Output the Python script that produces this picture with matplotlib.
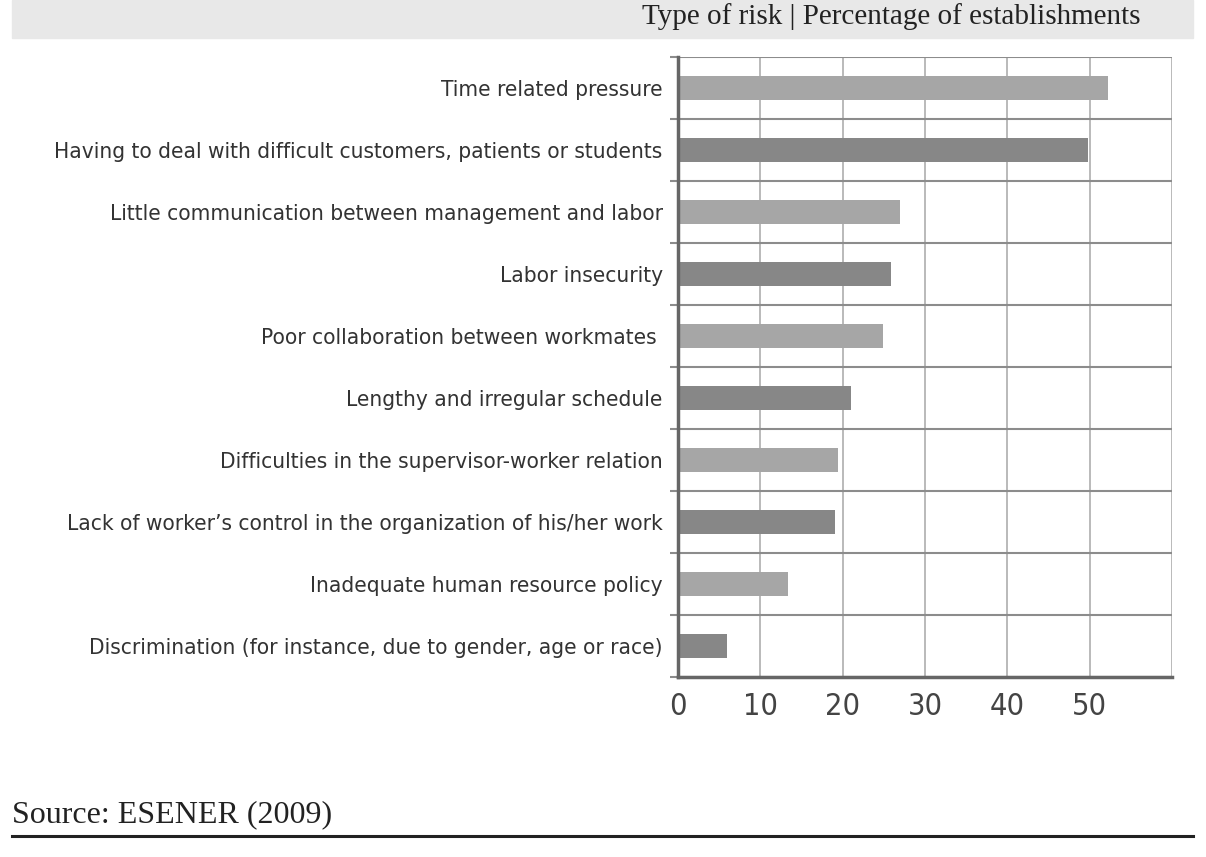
import matplotlib
matplotlib.use("Agg")
import matplotlib.pyplot as plt
from matplotlib.patches import Rectangle
import numpy as np

risks = [
    "Time related pressure",
    "Having to deal with difficult customers, patients or students",
    "Little communication between management and labor",
    "Labor insecurity",
    "Poor collaboration between workmates ",
    "Lengthy and irregular schedule",
    "Difficulties in the supervisor-worker relation",
    "Lack of worker\u2019s control in the organization of his/her work",
    "Inadequate human resource policy",
    "Discrimination (for instance, due to gender, age or race)",
]
pct = [52.2, 49.8, 27.0, 25.9, 24.9, 21.0, 19.4, 19.1, 13.3, 6.0]
xticks = [0, 10, 20, 30, 40, 50]

LIGHT, DARK = "#a6a6a6", "#878787"
cond = ["DejaVu Sans"]
serif = ["Liberation Serif", "DejaVu Serif"]

fig = plt.figure(figsize=(12.06, 8.57), dpi=100)
ax = fig.add_axes([0.5622, 0.21, 0.4096, 0.7235])

y = np.arange(len(risks))
cols = [LIGHT if i % 2 == 0 else DARK for i in range(len(risks))]
ax.barh(y, pct, height=0.4, color=cols, zorder=3)
ax.set_ylim(len(risks) - 0.5, -0.5)
ax.set_xlim(0, 60)

# vertical grid (light) incl. right edge at 60
for v in xticks[1:] + [60]:
    ax.axvline(v, color="#b4b4b4", lw=1.3, zorder=1)
# horizontal separators between categories (darker)
ax.set_yticks(np.arange(-0.5, len(risks)), minor=True)
ax.grid(which="minor", axis="y", color="#8c8c8c", lw=1.5, zorder=1)
ax.tick_params(axis="y", which="minor", length=6, color="#8c8c8c", width=1.5)

ax.set_yticks(y)
ax.set_yticklabels(risks, fontfamily=cond, fontstretch="condensed",
                   fontsize=16.2, color="#333333")
ax.tick_params(axis="y", which="major", length=0, pad=11)

ax.set_xticks(xticks)
ax.set_xticklabels([str(t) for t in xticks], fontfamily=cond,
                   fontstretch="condensed", fontsize=22, color="#444444")
ax.tick_params(axis="x", length=0, pad=11)

for s in ["top", "right"]:
    ax.spines[s].set_visible(False)
ax.spines["left"].set_color("#666666")
ax.spines["left"].set_linewidth(2.5)
ax.spines["bottom"].set_color("#666666")
ax.spines["bottom"].set_linewidth(2.5)
ax.spines["left"].set_zorder(4)

# header band
fig.patches.append(Rectangle((12 / 1206, 1 - 38 / 857), 1181 / 1206, 38 / 857,
                             transform=fig.transFigure, color="#e8e8e8",
                             zorder=0))
fig.text(1140 / 1206, 1 - 3 / 857, "Type of risk | Percentage of establishments",
         ha="right", va="top", fontfamily=serif, fontsize=21,
         color="#222222")

fig.text(12 / 1206, 1 - 815 / 857, "Source: ESENER (2009)", ha="left",
         va="center", fontfamily=serif, fontsize=23, color="#222222")
fig.add_artist(plt.Line2D([12 / 1206, 1193 / 1206], [1 - 836 / 857] * 2,
                          transform=fig.transFigure, color="#222222", lw=2.2))

fig.savefig("out.png", dpi=100)
